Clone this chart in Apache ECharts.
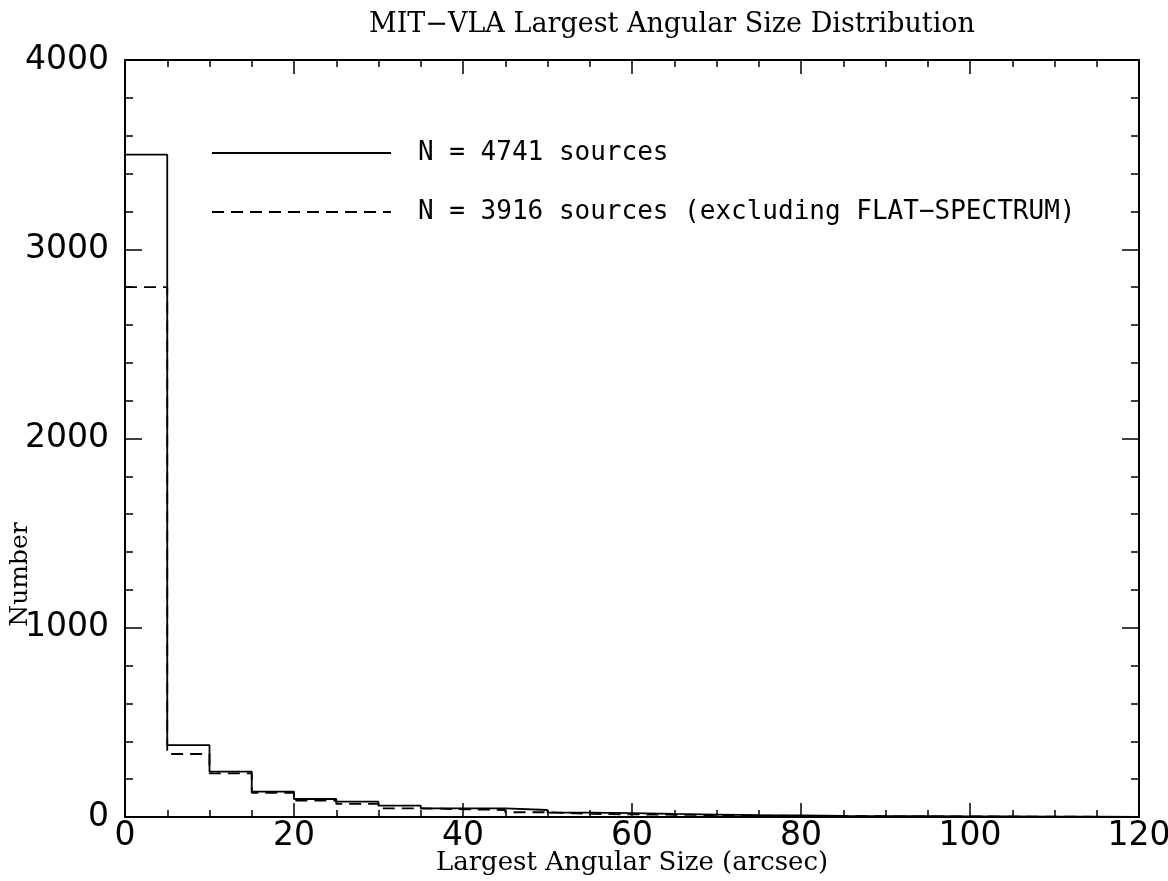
<!DOCTYPE html>
<html>
<head>
<meta charset="utf-8">
<script src="https://cdn.jsdelivr.net/npm/echarts@6/dist/echarts.min.js"></script>
<style>
html,body{margin:0;padding:0;background:#fff;}
#chart{width:1168px;height:881px;}
</style>
</head>
<body>
<div id="chart"></div>
<script>
// Bin edges (arcsec) of the 5-arcsec histogram bins
const binEdges = [0,5,10,15,20,25,30,35,40,45,50,55,60,65,70,75,80,85,90,95,100,105,110,115,120];
// Counts per bin, all sources (N = 4741)
const allCounts = [3500, 380, 240, 134, 95, 81, 60, 46, 46, 37, 23, 20, 16, 13, 10, 8, 6, 5, 4, 3, 3, 2, 2, 1];
// Counts per bin, excluding flat-spectrum sources (N = 3916)
const noFlatCounts = [2800, 333, 231, 128, 86, 69, 46, 41, 37, 25, 16, 14, 12, 10, 7, 6, 5, 4, 3, 3, 2, 2, 1, 1];
const seriesNames = ['N = 4741 sources', 'N = 3916 sources (excluding FLAT\u2212SPECTRUM)'];
const xTicks = [0, 20, 40, 60, 80, 100, 120];
const yTicks = [0, 1000, 2000, 3000, 4000];

function stepData(counts) {
  const d = counts.map((c, i) => [binEdges[i], c]);
  d.push([binEdges[binEdges.length - 1], counts[counts.length - 1]]);
  return d;
}

const chart = echarts.init(document.getElementById('chart'));
const tickFont = {fontFamily: 'DejaVu Sans', fontSize: 33, color: '#000'};
const nameFont = {fontFamily: 'DejaVu Serif', fontSize: 26, color: '#000'};
const lineW = 2;

function axisCommon(extra) {
  return Object.assign({
    type: 'value',
    axisLine: {show: true, onZero: false, lineStyle: {color: '#000', width: lineW}},
    axisTick: {show: true, inside: true, length: 14, lineStyle: {color: '#000', width: 1.5}},
    minorTick: {show: true, length: 7, lineStyle: {color: '#000', width: 1.5}},
    splitLine: {show: false},
    minorSplitLine: {show: false}
  }, extra);
}

const option = {
  backgroundColor: '#fff',
  animation: false,
  title: {
    text: 'MIT\u2212VLA Largest Angular Size Distribution',
    left: 364, top: 6,
    textStyle: {fontFamily: 'DejaVu Serif', fontSize: 27, fontWeight: 'normal', color: '#000'}
  },
  grid: {left: 125, right: 29, top: 60, bottom: 64, containLabel: false, outerBoundsMode: 'none'},
  legend: {
    orient: 'vertical',
    left: 206, top: 133,
    itemWidth: 179, itemHeight: 14, itemGap: 29,
    selectedMode: false,
    itemStyle: {opacity: 0},
    textStyle: {fontFamily: 'DejaVu Sans Mono', fontSize: 26, color: '#000', lineHeight: 30, padding: [0, 0, 0, 22]},
    data: seriesNames
  },
  xAxis: [
    axisCommon({
      position: 'bottom', min: xTicks[0], max: xTicks[xTicks.length - 1], interval: 20,
      minorTick: {show: true, splitNumber: 4, length: 7, lineStyle: {color: '#000', width: 1.5}},
      axisLabel: Object.assign({margin: 3}, tickFont),
      name: 'Largest Angular Size (arcsec)', nameLocation: 'middle', nameGap: 33,
      nameMoveOverlap: false,
      nameTextStyle: nameFont
    }),
    axisCommon({
      position: 'top', min: xTicks[0], max: xTicks[xTicks.length - 1], interval: 20,
      minorTick: {show: true, splitNumber: 4, length: 7, lineStyle: {color: '#000', width: 1.5}},
      axisLabel: {show: false}
    })
  ],
  yAxis: [
    axisCommon({
      position: 'left', min: yTicks[0], max: yTicks[yTicks.length - 1], interval: 1000,
      minorTick: {show: true, splitNumber: 5, length: 8, lineStyle: {color: '#000', width: 1.5}},
      axisTick: {show: true, inside: true, length: 17, lineStyle: {color: '#000', width: 1.5}},
      axisLabel: Object.assign({margin: 16, formatter: v => String(v)}, tickFont),
      name: 'Number', nameLocation: 'middle', nameGap: 92, nameRotate: 90,
      nameMoveOverlap: false,
      nameTextStyle: Object.assign({}, nameFont, {fontSize: 25, padding: [0, 272, 0, 0]})
    }),
    axisCommon({
      position: 'right', min: yTicks[0], max: yTicks[yTicks.length - 1], interval: 1000,
      minorTick: {show: true, splitNumber: 5, length: 8, lineStyle: {color: '#000', width: 1.5}},
      axisTick: {show: true, inside: true, length: 17, lineStyle: {color: '#000', width: 1.5}},
      axisLabel: {show: false}
    })
  ],
  series: [
    {
      name: seriesNames[0], type: 'line', step: 'end',
      xAxisIndex: 0, yAxisIndex: 0,
      data: stepData(allCounts),
      symbol: 'none', showSymbol: false,
      lineStyle: {color: '#000', width: 1.8, type: 'solid'},
      itemStyle: {color: '#000'}
    },
    {
      name: seriesNames[1], type: 'line', step: 'end',
      xAxisIndex: 0, yAxisIndex: 0,
      data: stepData(noFlatCounts),
      symbol: 'none', showSymbol: false,
      lineStyle: {color: '#000', width: 1.8, type: [12, 7]},
      itemStyle: {color: '#000'}
    }
  ]
};
chart.setOption(option);
</script>
</body>
</html>
